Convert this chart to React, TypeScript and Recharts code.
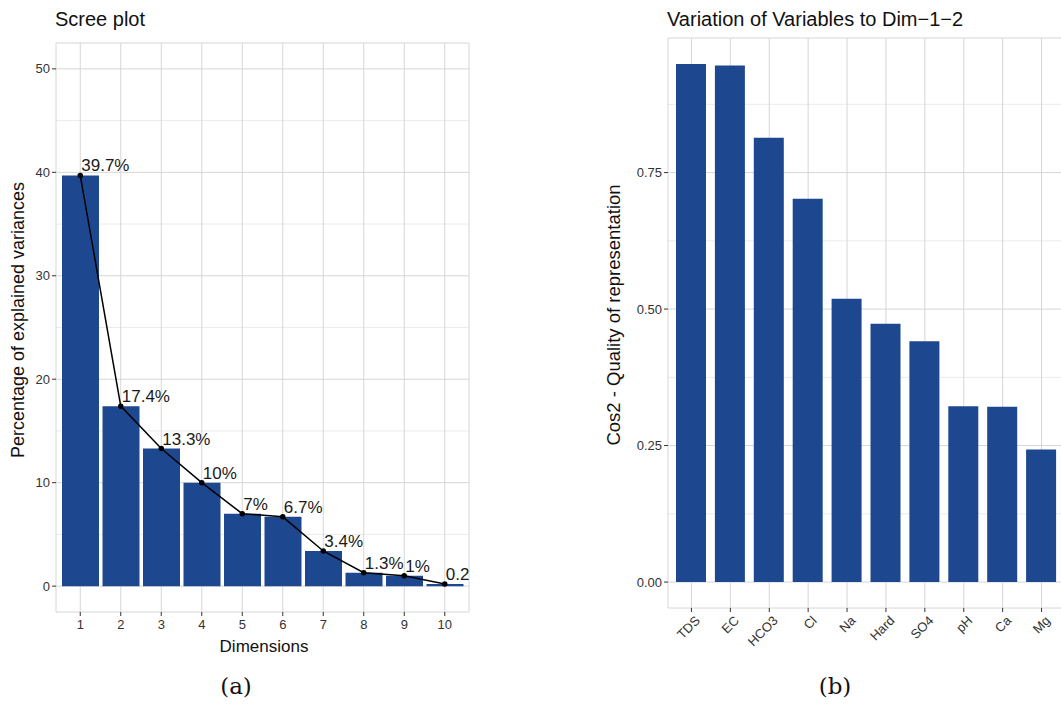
import React from 'react'
import {
  ComposedChart, BarChart, Bar, Line, LabelList,
  XAxis, YAxis, CartesianGrid,
} from 'recharts'

// Scree plot data
const dims = ['1', '2', '3', '4', '5', '6', '7', '8', '9', '10']
const explained = [39.7, 17.4, 13.3, 10, 7, 6.7, 3.4, 1.3, 1, 0.2]
const explainedLabels = ['39.7%', '17.4%', '13.3%', '10%', '7%', '6.7%', '3.4%', '1.3%', '1%', '0.2']
const screeTicks = [0, 10, 20, 30, 40, 50]
const screeMinor = [5, 15, 25, 35, 45]

// Cos2 data
const variables = ['TDS', 'EC', 'HCO3', 'Cl', 'Na', 'Hard', 'SO4', 'pH', 'Ca', 'Mg']
const cos2 = [0.949, 0.946, 0.814, 0.702, 0.519, 0.473, 0.441, 0.322, 0.321, 0.243]
const cos2Ticks = [0, 0.25, 0.5, 0.75]
const cos2Minor = [0.125, 0.375, 0.625, 0.875]

const screeData = dims.map((d, i) => ({ dim: d, value: explained[i], label: explainedLabels[i] }))
const cos2Data = variables.map((v, i) => ({ name: v, cos2: cos2[i] }))

const FONT = '"Liberation Sans", Arial, Helvetica, sans-serif'
const BAR = '#1d4890'
const GRID = '#d6d6d6'
const GRID_MINOR = '#ebebeb'
const TICK = { fontSize: 13, fill: '#333', fontFamily: FONT }

const txt = (extra: React.CSSProperties): React.CSSProperties => ({
  position: 'absolute', whiteSpace: 'nowrap', fontFamily: FONT, color: '#111', lineHeight: 1, ...extra,
})

function PointLabel(props: any) {
  const { x, y, index } = props
  return (
    <text x={x + 1} y={y - 4} fontSize={17} fontFamily={FONT} fill="#1a1a1a" textAnchor="start">
      {screeData[index].label}
    </text>
  )
}

function RotTick(props: any) {
  const { x, y, payload } = props
  return (
    <text x={x + 3} y={y} transform={`rotate(-45, ${x + 3}, ${y})`} textAnchor="end" dy="0.7em"
      fontSize={13} fontFamily={FONT} fill="#333">
      {payload.value}
    </text>
  )
}

export default function App() {
  return (
    <div style={{ position: 'absolute', left: 0, top: 0, width: 1061, height: 712, overflow: 'hidden', background: '#fff' }}>
      {/* ── (a) Scree plot ───────────────────────── */}
      <div style={{ position: 'absolute', left: 0, top: 0 }}>
        <ComposedChart width={530} height={712} data={screeData}
          margin={{ top: 43, right: 61, left: 6, bottom: 70 }}>
          <CartesianGrid stroke={GRID_MINOR} vertical={false} horizontalValues={screeMinor} />
          <CartesianGrid stroke={GRID} vertical horizontal />
          <XAxis dataKey="dim" padding={{ left: 4, right: 4 }} axisLine={false}
            tickLine={{ stroke: '#333' }} tickSize={4} tickMargin={4} tick={TICK} height={30} interval={0} />
          <YAxis type="number" domain={[-2.5, 52.5]} ticks={screeTicks} allowDataOverflow axisLine={false}
            tickLine={{ stroke: '#333' }} tickSize={4} tickMargin={2} tick={TICK} width={50} />
          <Bar dataKey="value" fill={BAR} barSize={37} isAnimationActive={false} />
          <Line dataKey="value" stroke="#000" strokeWidth={1.5} isAnimationActive={false}
            dot={{ r: 2, fill: '#000', stroke: '#000' }}>
            <LabelList dataKey="value" content={<PointLabel />} />
          </Line>
        </ComposedChart>
      </div>
      <div style={txt({ left: 55, top: 9, fontSize: 20 })}>Scree plot</div>
      <div style={txt({ left: 18, top: 320, fontSize: 18, transform: 'translate(-50%, -50%) rotate(-90deg)' })}>
        Percentage of explained variances
      </div>
      <div style={txt({ left: 264, top: 646, fontSize: 17, transform: 'translate(-50%, -50%)' })}>Dimensions</div>
      <div style={txt({ left: 236, top: 686, fontSize: 23, fontFamily: '"DejaVu Serif", serif', transform: 'translate(-50%, -50%)' })}>(a)</div>

      {/* ── (b) Cos2 of variables ────────────────── */}
      <div style={{ position: 'absolute', left: 560, top: 0 }}>
        <BarChart width={560} height={712} data={cos2Data}
          margin={{ top: 38, right: 55, left: 58, bottom: 54 }}>
          <CartesianGrid stroke={GRID_MINOR} vertical={false} horizontalValues={cos2Minor} />
          <CartesianGrid stroke={GRID} vertical horizontal />
          <XAxis dataKey="name" padding={{ left: 4, right: 4 }} axisLine={false}
            tickLine={{ stroke: '#333' }} tickSize={4} tickMargin={3} tick={<RotTick />} height={50} interval={0} />
          <YAxis type="number" domain={[-0.0475, 0.9965]} ticks={cos2Ticks} allowDataOverflow axisLine={false}
            tickFormatter={(v: number) => v.toFixed(2)}
            tickLine={{ stroke: '#333' }} tickSize={4} tickMargin={2} tick={TICK} width={50} />
          <Bar dataKey="cos2" fill={BAR} barSize={30} isAnimationActive={false} />
        </BarChart>
      </div>
      <div style={txt({ left: 667, top: 9, fontSize: 20 })}>Variation of Variables to Dim−1−2</div>
      <div style={txt({ left: 614, top: 315, fontSize: 18.5, transform: 'translate(-50%, -50%) rotate(-90deg)' })}>
        Cos2 - Quality of representation
      </div>
      <div style={txt({ left: 835, top: 686, fontSize: 23, fontFamily: '"DejaVu Serif", serif', transform: 'translate(-50%, -50%)' })}>(b)</div>
    </div>
  )
}
